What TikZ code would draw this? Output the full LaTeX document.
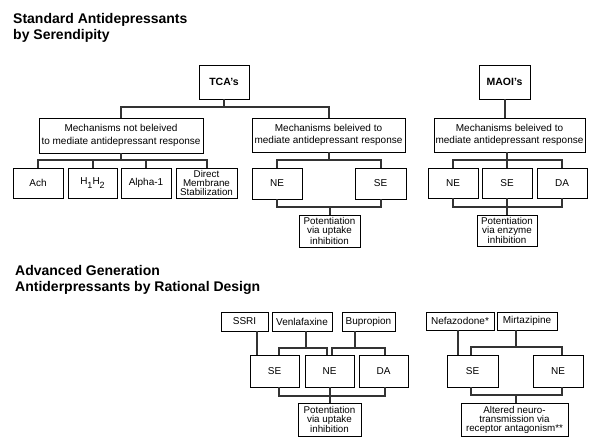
\documentclass[tikz,border=0pt]{standalone}
\usepackage{fontspec}
\setmainfont{Liberation Sans}
\newcommand{\lowsub}[1]{\raisebox{-4pt}{\fontsize{9}{9}\selectfont #1}}
\begin{document}
\begin{tikzpicture}[x=1pt,y=-1pt,
  box/.style={draw=black,line width=0.8pt,inner sep=0pt,align=center,
    font=\fontsize{10}{12.5}\selectfont},
  tight/.style={font=\fontsize{9.8}{9}\selectfont},
  bold/.style={font=\fontsize{10.5}{12}\selectfont\bfseries},
  conn/.style={draw=black!80,line width=2pt},
  ttl/.style={anchor=base west,inner sep=0pt,font=\fontsize{14}{16}\selectfont\bfseries}]
\useasboundingbox[fill=white] (0,0) rectangle (603,446);

% titles
\node[ttl] (t1) at (13,24) {Standard Antidepressants};
\node[ttl] (t2) at (13,40) {by Serendipity};
\node[ttl] (t3) at (15,276) {Advanced Generation};
\node[ttl] (t4) at (15,292) {Antiderpressants by Rational Design};

% top section
\node[box,bold,minimum width=50pt,minimum height=34pt] (tca) at (224,82) {TCA's};
\node[box,bold,minimum width=51pt,minimum height=34pt] (mao) at (504.5,82) {MAOI's};
\node[box,minimum width=164pt,minimum height=35pt] (mn) at (121,135.5) {Mechanisms not beleived\\to mediate antidepressant response};
\node[box,minimum width=153pt,minimum height=34pt] (mt) at (328.5,135) {Mechanisms beleived to\\mediate antidepressant response};
\node[box,minimum width=151pt,minimum height=34pt] (mm) at (509.5,135) {Mechanisms beleived to\\mediate antidepressant response};

\node[box,minimum width=50pt,minimum height=30pt] (ach) at (38,183) {Ach};
\node[box,minimum width=49pt,minimum height=30pt] (h12) at (92.5,183) {H\lowsub{1}H\lowsub{2}};
\node[box,minimum width=50pt,minimum height=30pt] (alp) at (146,183) {Alpha-1};
\node[box,tight,minimum width=61pt,minimum height=30pt] (dir) at (206.5,183) {Direct\\Membrane\\Stabilization};

\node[box,minimum width=50pt,minimum height=31pt] (ne1) at (277,183.5) {NE};
\node[box,minimum width=51pt,minimum height=31pt] (se1) at (380.5,183.5) {SE};
\node[box,tight,minimum width=61pt,minimum height=32pt] (pot1) at (329.5,231) {Potentiation\\via uptake\\inhibition};

\node[box,minimum width=50pt,minimum height=30pt] (ne2) at (453,183) {NE};
\node[box,minimum width=50pt,minimum height=30pt] (se2) at (507,183) {SE};
\node[box,minimum width=50pt,minimum height=30pt] (da2) at (562,183) {DA};
\node[box,tight,minimum width=60pt,minimum height=31pt] (pot2) at (507,230.5) {Potentiation\\via enzyme\\inhibition};

% bottom section
\node[box,minimum width=47pt,minimum height=19pt] (ssri) at (244.5,321.5) {SSRI};
\node[box,minimum width=60pt,minimum height=19pt] (ven) at (302,321.5) {Venlafaxine};
\node[box,minimum width=53pt,minimum height=19pt] (bup) at (368.5,321.5) {Bupropion};
\node[box,minimum width=49pt,minimum height=32pt] (se3) at (274.5,371) {SE};
\node[box,minimum width=49pt,minimum height=32pt] (ne3) at (329.5,371) {NE};
\node[box,minimum width=49pt,minimum height=32pt] (da3) at (383.5,371) {DA};
\node[box,tight,minimum width=63pt,minimum height=33pt] (pot3) at (329.5,419.5) {Potentiation\\via uptake\\inhibition};

\node[box,minimum width=68pt,minimum height=18pt] (nef) at (460,321) {Nefazodone*};
\node[box,minimum width=60pt,minimum height=18pt] (mir) at (527,321) {Mirtazipine};
\node[box,minimum width=51pt,minimum height=32pt] (se4) at (472.5,371) {SE};
\node[box,minimum width=50pt,minimum height=32pt] (ne4) at (558,371) {NE};
\node[box,tight,minimum width=107pt,minimum height=33pt] (alt) at (514.5,419.5) {Altered neuro-\\transmission via\\receptor antagonism**};

% connectors top
\draw[conn] (tca.south) -- ++(0,8) coordinate (jt);
\draw[conn] (mn.north) |- (jt) -| (mt.north);
\draw[conn] (mao.south) -- (mao.south |- mm.north);

\draw[conn] (mn.south) -- ++(0,7) coordinate (jn);
\draw[conn] (ach.north) |- (jn) -| (dir.north);
\draw[conn] (h12.north) -- (h12.north |- jn);
\draw[conn] (alp.north) -- (alp.north |- jn);

\draw[conn] (mt.south) -- ++(0,8) coordinate (jm);
\draw[conn] (ne1.north) |- (jm) -| (se1.north);
\draw[conn] (ne1.south) -- ++(0,8) coordinate (jp) -| (se1.south);
\draw[conn] (pot1.north) -- (pot1.north |- jp);

\draw[conn] (se2.north) -- (se2.north |- mm.south);
\draw[conn] (ne2.north) -- ++(0,-8) -| (da2.north);
\draw[conn] (ne2.south) -- ++(0,9) -| (da2.south);
\draw[conn] (se2.south) -- (pot2.north);

% connectors bottom
\draw[conn] ([xshift=12.5pt]ssri.south) -- ([xshift=12.5pt]ssri.south |- se3.north);
\draw[conn] ([xshift=4pt]ven.south) -- ++(0,17) coordinate (jv);
\draw[conn] ([xshift=4.5pt]se3.north) |- (jv) -| ([xshift=-2.5pt]ne3.north);
\draw[conn] ([xshift=-13.5pt]bup.south) -- ++(0,17) coordinate (jb);
\draw[conn] ([xshift=2.5pt]ne3.north) |- (jb) -| ([xshift=1.5pt]da3.north);
\draw[conn] ([xshift=4.5pt]se3.south) -- ++(0,9) -| ([xshift=1.5pt]da3.south);
\draw[conn] (ne3.south) -- (pot3.north);

\draw[conn] ([xshift=-2pt]nef.south) -- ([xshift=-2pt]nef.south |- se4.north);
\draw[conn] ([xshift=-11pt]mir.south) -- ++(0,17) coordinate (jz);
\draw[conn] ([xshift=-1.5pt]se4.north) |- (jz) -| ([xshift=4pt]ne4.north);
\draw[conn] ([xshift=-1.5pt]se4.south) -- ++(0,8) coordinate (jy) -| ([xshift=4pt]ne4.south);
\draw[conn] ([xshift=1.5pt]alt.north) -- ([xshift=1.5pt]alt.north |- jy);
\end{tikzpicture}
\end{document}
